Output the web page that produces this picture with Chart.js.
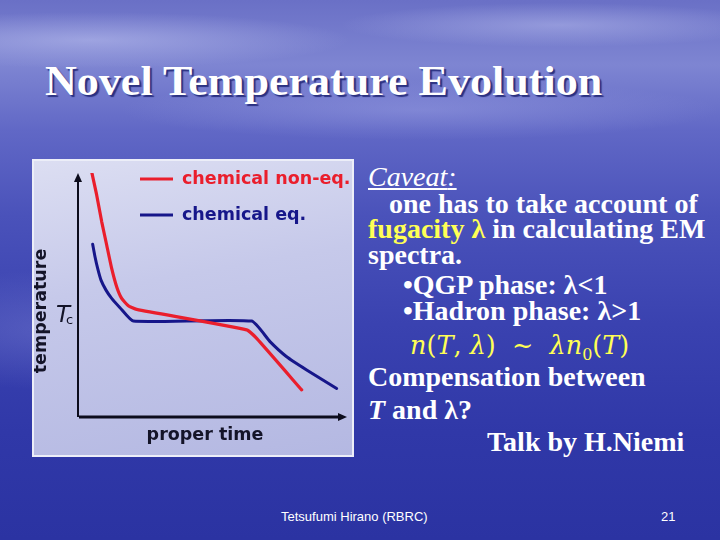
<!DOCTYPE html>
<html>
<head>
<meta charset="utf-8">
<script src="https://cdn.jsdelivr.net/npm/chart.js@4.4.1/dist/chart.umd.min.js"></script>
<style>
  html, body { margin: 0; padding: 0; }
  body {
    width: 720px; height: 540px; overflow: hidden; position: relative;
    background:
      radial-gradient(ellipse 260px 28px at 90px 40px, rgba(190,195,240,0.55), rgba(190,195,240,0) 100%),
      radial-gradient(ellipse 220px 22px at 560px 25px, rgba(190,195,240,0.45), rgba(190,195,240,0) 100%),
      radial-gradient(ellipse 300px 30px at 420px 110px, rgba(170,175,235,0.35), rgba(170,175,235,0) 100%),
      radial-gradient(ellipse 200px 60px at 60px 330px, rgba(140,145,220,0.35), rgba(140,145,220,0) 100%),
      linear-gradient(180deg, #6a70c6 0%, #7e85d2 12%, #6168c6 24%, #4a52ba 40%, #3a42b0 60%, #3038a8 80%, #2b33a2 100%);
    font-family: "Liberation Serif", "Times New Roman", serif;
  }
  .t { position: absolute; white-space: nowrap; color: #fff; }
  #title {
    left: 45px; top: 57px; font-size: 42px; font-weight: bold;
    text-shadow: 2px 2px 1px #2a3080; transform-origin: 0 0;
  }
  #panel {
    position: absolute; left: 32px; top: 159px; width: 318px; height: 294px;
    border: 2px solid #eceef8;
    background: linear-gradient(170deg, #dcdef2 0%, #c6c9ea 40%, #b4b8e2 100%);
  }
  .r { font-weight: bold; font-size: 28px; }
  .y { color: #ffff55; }
  #foot { font-family: "Liberation Sans", Arial, sans-serif; font-size: 13px; }
</style>
</head>
<body>
<div class="t" id="title">Novel Temperature Evolution</div>

<div id="panel"><canvas id="tempChart" width="318" height="294"></canvas></div>

<div class="t" style="left:368px;top:161px;font-size:28px;font-style:italic;text-decoration:underline;">Caveat<span style="text-decoration:none">:</span></div>
<div class="t r" style="left:389px;top:188px;">one has to take account of</div>
<div class="t r" style="left:368px;top:213px;"><span class="y">fugacity &lambda;</span> in calculating EM</div>
<div class="t r" style="left:368px;top:239px;">spectra.</div>
<div class="t r" style="left:403px;top:269px;">&bull;QGP phase: &lambda;&lt;1</div>
<div class="t r" style="left:403px;top:295px;">&bull;Hadron phase: &lambda;&gt;1</div>
<div class="t y" style="left:410px;top:330px;font-size:25.5px;font-family:'DejaVu Serif',serif;"><i>n</i>(<i>T</i>, <i>&lambda;</i>)&nbsp; &sim; &nbsp;<i>&lambda;n</i><sub style="font-size:16px;font-style:normal">0</sub>(<i>T</i>)</div>
<div class="t r" style="left:368px;top:361px;">Compensation between</div>
<div class="t r" style="left:368px;top:394px;"><i>T</i> and &lambda;?</div>
<div class="t r" style="left:487px;top:426px;">Talk by H.Niemi</div>

<div class="t" id="foot" style="left:281px;top:509px;">Tetsufumi Hirano (RBRC)</div>
<div class="t" style="left:661px;top:509px;font-family:'Liberation Sans',Arial,sans-serif;font-size:13px;">21</div>

<script>
// chart values (x = proper time, y = temperature, arbitrary units 0..100)
const timeNonEq = [5.08, 6.94, 8.8, 10.66, 12.52, 14.37, 16.23, 18.71, 21.81, 62.7, 66.42, 83.15];
const tempNonEq = [100.5, 91.0, 80.1, 70.5, 60.9, 53.4, 48.6, 45.6, 44.1, 35.7, 32.2, 11.1];
const timeEq = [5.45, 6.32, 7.31, 8.55, 10.41, 12.52, 15.61, 20.57, 64.56, 71.38, 77.57, 85.0, 96.16];
const tempEq = [70.8, 65.7, 60.9, 56.1, 52.0, 48.6, 44.8, 39.3, 39.3, 30.9, 24.7, 19.3, 11.7];
const seriesLabels = ['chemical non-eq.', 'chemical eq.'];
const seriesColors = ['#ea1e2c', '#16168a'];
const tcLevel = 39.3;

// squeeze the title to the width it has on the slide
const title = document.getElementById('title');
title.style.transform = 'scaleX(' + (557 / title.offsetWidth) + ')';

function toPoints(xs, ys) {
  return xs.map(function(x, i) { return { x: x, y: ys[i] }; });
}

const slideDecor = {
  id: 'slideDecor',
  beforeDatasetsDraw: function(chart) {
    const ctx = chart.ctx;
    const a = chart.chartArea;
    const x0 = a.left, y0 = a.bottom;
    ctx.save();
    ctx.strokeStyle = '#0c0c1c';
    ctx.fillStyle = '#0c0c1c';
    // y axis
    ctx.lineWidth = 2;
    ctx.beginPath();
    ctx.moveTo(x0, y0);
    ctx.lineTo(x0, a.top + 8);
    ctx.stroke();
    ctx.beginPath();
    ctx.moveTo(x0, a.top);
    ctx.lineTo(x0 - 4, a.top + 9);
    ctx.lineTo(x0 + 4, a.top + 9);
    ctx.closePath();
    ctx.fill();
    // x axis
    ctx.lineWidth = 3;
    ctx.beginPath();
    ctx.moveTo(x0 + 1, y0);
    ctx.lineTo(a.right - 8, y0);
    ctx.stroke();
    ctx.beginPath();
    ctx.moveTo(a.right, y0);
    ctx.lineTo(a.right - 9, y0 - 4);
    ctx.lineTo(a.right - 9, y0 + 4);
    ctx.closePath();
    ctx.fill();

    // axis titles
    ctx.fillStyle = '#141428';
    ctx.font = 'bold 17.5px "DejaVu Sans", sans-serif';
    ctx.textAlign = 'center';
    ctx.textBaseline = 'middle';
    ctx.fillText('proper time', 171, 274);
    ctx.save();
    ctx.translate(7, 150);
    ctx.rotate(-Math.PI / 2);
    ctx.fillText('temperature', 0, 0);
    ctx.restore();

    // Tc mark
    const ty = chart.scales.y.getPixelForValue(tcLevel);
    ctx.textAlign = 'left';
    ctx.textBaseline = 'alphabetic';
    ctx.font = 'italic 23px "DejaVu Sans", sans-serif';
    ctx.fillText('T', 22, ty + 1);
    ctx.font = '13px "DejaVu Sans", sans-serif';
    ctx.fillText('c', 32, ty + 3);
    ctx.restore();
  },
  afterDraw: function(chart) {
    const ctx = chart.ctx;
    ctx.save();
    ctx.font = 'bold 17.5px "DejaVu Sans", sans-serif';
    ctx.textBaseline = 'middle';
    const rows = [18, 54];
    chart.data.datasets.forEach(function(ds, i) {
      ctx.strokeStyle = ds.borderColor;
      ctx.lineWidth = 3;
      ctx.beginPath();
      ctx.moveTo(106, rows[i]);
      ctx.lineTo(139, rows[i]);
      ctx.stroke();
      ctx.fillStyle = ds.borderColor;
      ctx.fillText(ds.label, 148, rows[i]);
    });
    ctx.restore();
  }
};

const ctx = document.getElementById('tempChart');
const tempChart = new Chart(ctx, {
  type: 'line',
  data: {
    datasets: [
      {
        label: seriesLabels[0],
        data: toPoints(timeNonEq, tempNonEq),
        borderColor: seriesColors[0],
        borderWidth: 3.2,
        borderCapStyle: 'round',
        borderJoinStyle: 'round',
        pointRadius: 0,
        tension: 0.15
      },
      {
        label: seriesLabels[1],
        data: toPoints(timeEq, tempEq),
        borderColor: seriesColors[1],
        borderWidth: 3,
        borderCapStyle: 'round',
        borderJoinStyle: 'round',
        pointRadius: 0,
        tension: 0.15
      }
    ]
  },
  options: {
    responsive: false,
    animation: false,
    layout: { padding: { left: 44, right: 5, top: 12, bottom: 38 } },
    plugins: { legend: { display: false }, tooltip: { enabled: false } },
    scales: {
      x: { type: 'linear', min: 0, max: 100, display: false },
      y: { type: 'linear', min: 0, max: 100, display: false }
    }
  },
  plugins: [slideDecor]
});
</script>
</body>
</html>
